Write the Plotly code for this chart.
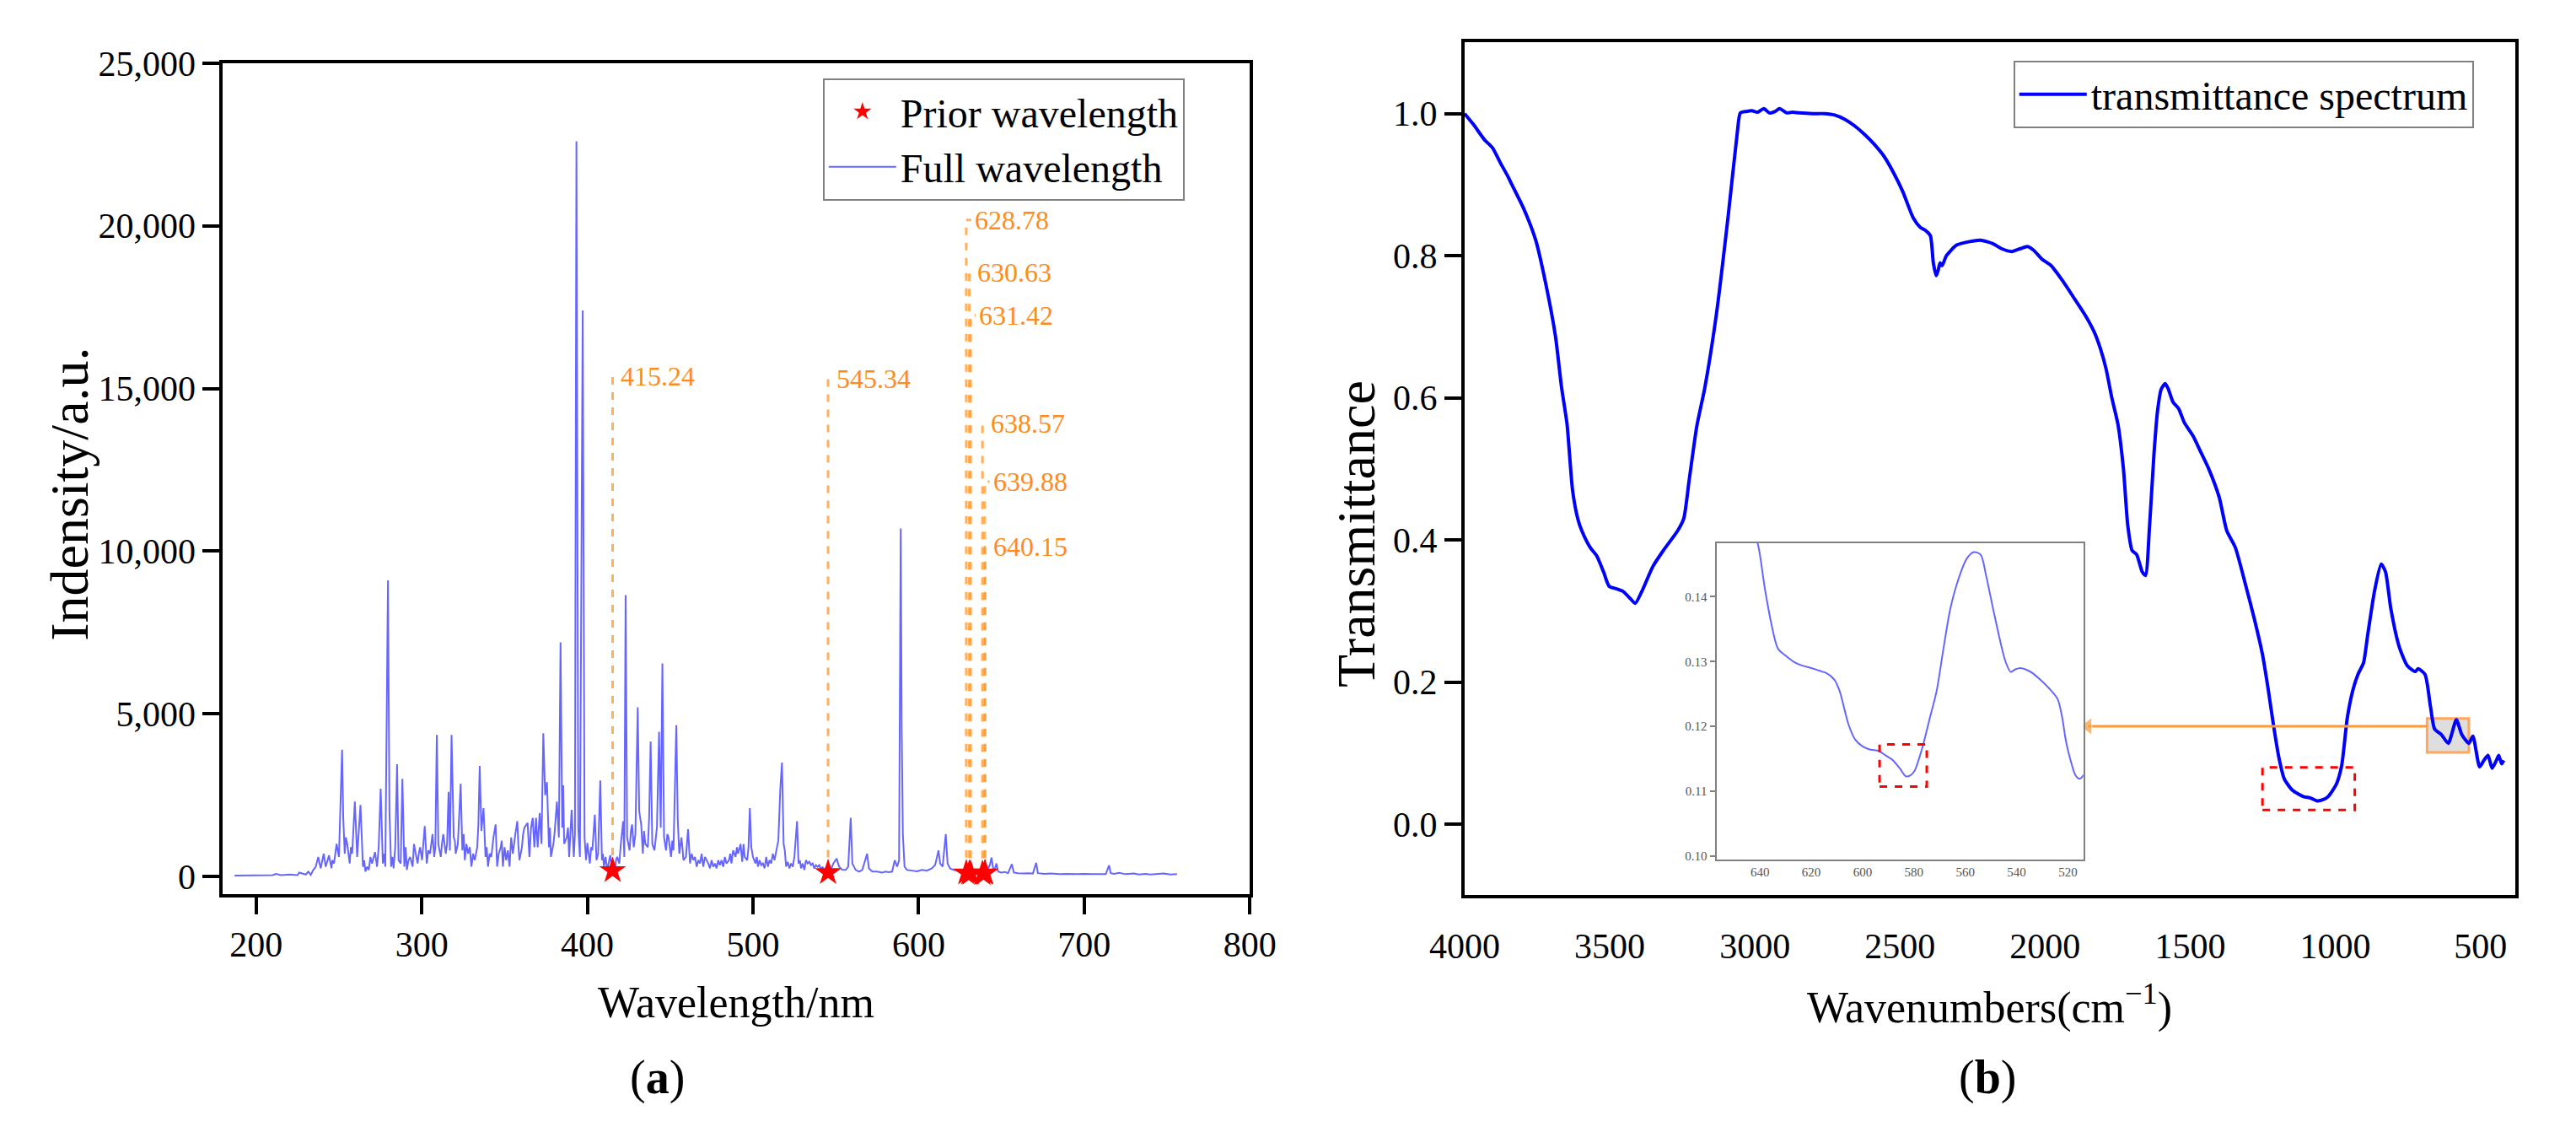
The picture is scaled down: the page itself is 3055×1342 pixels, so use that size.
import plotly.graph_objects as go

# ---------------- data: panel (a) LIBS spectrum (vertices) ----------------
wl_nm = [187, 195, 200, 205, 210, 212, 215, 220, 225, 230, 233,
         236, 237.5, 239, 240.8, 242, 244, 245.5, 247, 248.6, 250, 251.9, 252.6, 253.5, 255, 256.5, 258, 259.6, 261, 263, 264.5,
         266, 268, 270, 271.8, 273, 275.2, 276.5, 278, 279.6, 280.5, 281.5, 283, 285.1, 286, 287.3, 288.3, 289.5, 291, 293,
         294.5, 296, 297.5, 299, 300.2, 301.8, 303, 305, 306.5, 307.5, 309.1, 310, 311.5, 313, 314.5, 316.2, 317, 318, 319.3,
         320.5, 321.8, 323.5, 324.5, 326, 328, 330, 332, 333.5, 335, 336, 337.3, 338.5, 340, 342, 344.6, 345.5, 347.7, 349,
         351, 353, 355, 356.5, 357.7, 359, 360.5, 362, 363.9, 365, 367, 368, 369, 370, 371.2, 372.3, 373.4, 374.5, 375.6, 376.8,
         378, 379.5, 381.6, 382.8, 383.8, 384.8, 386, 387.5, 389, 390.5, 391.8, 393.4, 394.5, 395.5, 397.2, 398.3, 399.2, 400,
         401.5, 403, 404.5, 405.5, 406.5, 407.8, 408.8, 410, 412, 413.8, 415.2, 416.5, 418, 419.3, 420.2, 421.6, 422.3, 423.1,
         424, 425.5, 427, 428, 429, 430.4, 431.3, 432.5, 433.5, 435, 436.5, 438.2, 439.2, 440.5, 442, 443.3, 444.3, 445.3, 446.3,
         447.5, 449, 450.5, 452, 453.7, 454.6, 455.5, 456.8, 458, 459.5, 460.8, 462, 464, 466, 468, 470, 472, 474, 476, 478,
         480, 482, 484, 485.5, 487, 488, 489.5, 491, 492.5, 493.5, 495, 496.5, 498.1, 499, 500, 501.5, 503, 505, 507, 509,
         511, 513, 514.5, 516.5, 517.5, 518.5, 520, 522, 524, 526.6, 527.5, 529, 531, 533, 535, 537, 539, 541, 543, 545.3,
         547, 548.5, 550.5, 552, 554, 556, 557.5, 559, 560, 562, 564, 566, 568.9, 570, 572, 575, 578, 580, 582, 584, 585.6,
         587, 588.2, 589.2, 589.8, 590.5, 591.5, 593, 596, 599, 602, 605, 608, 610, 612, 613, 614.5, 616.4, 617.5, 619, 621,
         623, 626, 628.8, 630.6, 631.4, 633, 635, 638.6, 639.9, 640.2, 641.5, 643, 644, 645, 646, 647, 648, 650, 652, 654,
         656.3, 657.5, 660, 663, 666, 669, 671, 672, 676, 680, 685, 690, 695, 700, 705, 710, 713, 715, 716, 718, 721, 725,
         730, 733, 737, 740, 745, 748, 752, 756]
intensity = [30, 40, 30, 50, 40, 80, 40, 60, 40, 60, 50,
             300, 600, 250, 700, 300, 650, 250, 400, 1000, 600, 3900, 1800, 700, 1000, 400, 700, 2300, 600, 2200, 300,
             150, 200, 400, 750, 300, 2700, 400, 300, 9100, 2000, 300, 250, 3450, 500, 400, 3000, 300, 200, 600,
             300, 800, 400, 900, 500, 1550, 400, 700, 1300, 600, 4350, 1000, 600, 1300, 700, 2600, 800, 4350, 1200,
             700, 1000, 2850, 800, 500, 700, 300, 500, 900, 3400, 1400, 2100, 600, 300, 600, 1600, 300, 900, 300,
             500, 300, 700, 1300, 1700, 500, 900, 1500, 1650, 600, 1800, 900, 1800, 900, 1950, 1000, 4400, 2500, 2900, 900,
             600, 1000, 2300, 1200, 7200, 1500, 1000, 1200, 600, 2050, 600, 22600, 1500, 600, 17400, 1200, 500, 1030,
             400, 800, 1900, 500, 700, 2950, 500, 300, 200, 650, 200, 150, 600, 400, 1000, 1700, 600, 8650,
             1200, 800, 1600, 900, 1300, 5200, 2000, 1600, 700, 1000, 900, 4150, 1000, 800, 1500, 4450, 1500, 6550, 1200,
             800, 1200, 600, 800, 4650, 1700, 700, 1200, 500, 600, 1450, 400, 500, 300, 400, 300, 500, 250, 300, 250,
             350, 300, 400, 500, 400, 800, 600, 700, 1000, 450, 600, 500, 2100, 900, 600, 400, 300, 350, 250, 300,
             400, 500, 900, 2700, 3500, 1000, 300, 250, 300, 1700, 400, 250, 200, 400, 350, 250, 300, 200, 150, 150,
             200, 400, 550, 300, 200, 200, 300, 1800, 400, 200, 150, 200, 700, 250, 150, 150, 120, 150, 130, 150, 500,
             300, 500, 10700, 4500, 1300, 300, 200, 180, 160, 200, 180, 250, 350, 800, 400, 300, 1300, 400, 250, 200,
             180, 120, 100, 90, 100, 80, 70, 90, 100, 120, 200, 350, 580, 250, 220, 400, 150, 120, 140, 100,
             380, 120, 100, 90, 100, 90, 420, 100, 80, 90, 70, 80, 70, 80, 70, 80, 70, 340, 100, 80, 110, 70,
             90, 60, 80, 60, 70, 90, 60, 70]

# weaker emission lines (the dense "grass" between the main lines)
minor_nm = [226, 228.5, 231.5, 234.5, 246, 254.2, 257.2, 265.2, 267, 269, 274, 277.3, 282.3, 284, 290.3, 292, 295.3,
            298.2, 302.4, 304, 308.2, 312.2, 315.3, 320, 325.3, 327, 329, 331, 334.2, 339.2, 341, 343.3, 346.5, 348.3,
            350, 352, 354, 358.3, 361.2, 366, 377.4, 380.3, 385.4, 388.3, 392.5, 402.3, 409.4, 411, 414.5, 417.3, 426.3,
            434.2, 437.3, 441.3, 448.3, 451.3, 457.4, 463, 465, 467, 469, 471, 473, 475, 477, 479, 481, 483, 486.3,
            490.3, 494.3, 497.3, 502.3, 504, 506, 508, 510, 512, 515.3, 519.2, 521, 523, 525, 528.3, 530, 532, 534,
            536, 538, 540, 542, 544]
minor_int = [120, 90, 150, 200, 500, 1200, 900, 500, 300, 600, 900, 700, 600, 900, 900, 500, 1000,
             700, 1000, 800, 900, 1000, 1000, 1100, 1300, 1000, 900, 700, 1600, 900, 700, 1200, 700, 1100,
             900, 800, 1200, 1000, 1300, 1500, 1500, 1400, 2800, 1500, 1300, 900, 700, 600, 400, 500, 1400,
             1400, 1800, 1300, 1300, 1100, 900, 700, 600, 500, 700, 600, 400, 500, 400, 500, 500, 600, 700,
             900, 1000, 900, 600, 500, 400, 600, 500, 700, 1100, 800, 450, 400, 600, 500, 400, 500, 450,
             400, 350, 350, 300, 250]

prior_nm = [415.24, 545.34, 628.78, 630.63, 631.42, 638.57, 639.88, 640.15]
prior_int = [180, 120, 110, 100, 100, 90, 100, 110]
prior_labels = ["415.24", "545.34", "628.78", "630.63", "631.42", "638.57", "639.88", "640.15"]
label_level = [15370, 15300, 20180, 18580, 17250, 13930, 12140, 10130]

x_ticks_a = [200, 300, 400, 500, 600, 700, 800]
y_ticks_a = [0, 5000, 10000, 15000, 20000, 25000]

# ---------------- data: panel (b) transmittance spectrum ----------------
wavenumber = [4000, 3970, 3931, 3904, 3877, 3850, 3837, 3796, 3755, 3720, 3687, 3666, 3647, 3628, 3610, 3596,
              3568, 3545, 3521, 3502, 3474, 3455, 3430, 3412, 3389, 3351, 3314, 3266, 3245, 3226, 3200, 3172,
              3132, 3091, 3060, 3050, 3030, 3010, 2990, 2969, 2950, 2930, 2915, 2890, 2870, 2847, 2800, 2760,
              2725, 2690, 2657, 2620, 2589, 2555, 2521, 2490, 2454, 2430, 2410, 2395, 2385, 2375, 2368, 2362,
              2355, 2340, 2305, 2260, 2223, 2180, 2150, 2115, 2085, 2061, 2040, 2010, 1979, 1940, 1898, 1860,
              1830, 1810, 1790, 1770, 1749, 1730, 1715, 1700, 1685, 1665, 1654, 1640, 1625, 1613, 1600, 1586,
              1575, 1559, 1540, 1520, 1491, 1465, 1437, 1400, 1374, 1345, 1308, 1279, 1251, 1232, 1214, 1195,
              1176, 1148, 1110, 1085, 1063, 1040, 1025, 997, 978, 959, 940, 922, 903, 889, 865, 842, 827, 809,
              780, 752, 724, 715, 691, 672, 658, 634, 611, 583, 564, 540, 526, 503, 488, 474, 460, 445, 437,
              427, 420]
transmittance = [1.000, 0.985, 0.963, 0.952, 0.931, 0.911, 0.900, 0.866, 0.822, 0.760, 0.687, 0.615, 0.563, 0.470,
                 0.430, 0.413, 0.390, 0.378, 0.355, 0.335, 0.331, 0.328, 0.318, 0.311, 0.328, 0.363, 0.386, 0.413,
                 0.430, 0.485, 0.560, 0.615, 0.719, 0.859, 0.975, 1.001, 1.003, 1.004, 1.002, 1.007, 1.001, 1.003,
                 1.007, 1.001, 1.002, 1.001, 1.000, 1.000, 0.998, 0.992, 0.983, 0.970, 0.957, 0.940, 0.916, 0.890,
                 0.853, 0.840, 0.835, 0.828, 0.790, 0.772, 0.780, 0.790, 0.786, 0.800, 0.815, 0.820, 0.822, 0.817,
                 0.810, 0.806, 0.810, 0.813, 0.808, 0.795, 0.786, 0.765, 0.739, 0.715, 0.692, 0.670, 0.641, 0.600,
                 0.563, 0.500, 0.420, 0.385, 0.380, 0.355, 0.350, 0.420, 0.520, 0.580, 0.612, 0.620, 0.612, 0.594,
                 0.585, 0.565, 0.547, 0.525, 0.501, 0.460, 0.413, 0.390, 0.335, 0.289, 0.239, 0.192, 0.142, 0.095,
                 0.064, 0.048, 0.039, 0.037, 0.033, 0.035, 0.039, 0.056, 0.083, 0.149, 0.188, 0.211, 0.227, 0.265,
                 0.328, 0.366, 0.355, 0.304, 0.250, 0.223, 0.215, 0.219, 0.211, 0.165, 0.134, 0.126, 0.114, 0.147,
                 0.126, 0.114, 0.124, 0.081, 0.090, 0.097, 0.079, 0.090, 0.097, 0.085, 0.090]

inset_wn = [643, 641, 638, 635.5, 633, 630, 627, 623.7, 620, 617, 614, 611, 609, 607, 605.5, 603, 600, 597,
            593.7, 591, 588.3, 585.5, 583.2, 581.5, 579.8, 576.6, 574, 571.2, 568.5, 565.8, 562.6, 559.4, 556.7,
            554, 551.9, 548.7, 544.4, 542.3, 540.5, 538.5, 536, 533.7, 530.5, 527.2, 524, 522.3, 520.8, 519, 517,
            515.4, 513.5]
inset_t = [0.1500, 0.1484, 0.1410, 0.1357, 0.1320, 0.1309, 0.1300, 0.1294, 0.1290, 0.1286, 0.1282, 0.1272, 0.1255,
           0.1225, 0.1203, 0.1180, 0.1169, 0.1164, 0.1162, 0.1155, 0.1148, 0.1135, 0.1123, 0.1124, 0.1131, 0.1169,
           0.1210, 0.1254, 0.1320, 0.1382, 0.1428, 0.1459, 0.1469, 0.1465, 0.1433, 0.1373, 0.1301, 0.1284, 0.1288,
           0.1290, 0.1287, 0.1282, 0.1271, 0.1258, 0.1242, 0.1215, 0.1178, 0.1148, 0.1124, 0.1119, 0.1127]

x_ticks_b = [4000, 3500, 3000, 2500, 2000, 1500, 1000, 500]
y_ticks_b = [0.0, 0.2, 0.4, 0.6, 0.8, 1.0]
x_ticks_inset = [640, 620, 600, 580, 560, 540, 520]
y_ticks_inset = [0.10, 0.11, 0.12, 0.13, 0.14]

# zoom-region markers in panel (b): grey box (main), red boxes, arrow from box to inset
grey_box_wn = [684, 540]
grey_box_t = [0.101, 0.149]
red_box_main_wn = [1251, 933]
red_box_main_t = [0.020, 0.080]
red_box_inset_wn = [593.4, 575]
red_box_inset_t = [0.1107, 0.1172]
arrow_wn = [684, 1852]
arrow_t = [0.138, 0.138]

# ---------------- figure ----------------
W, H = 3055, 1342
FONT = "Liberation Serif, Times New Roman, serif"
ORANGE_TXT = "#FF8C1A"
ORANGE_LINE = "rgba(255,150,40,0.75)"


def px(x):
    return x / W


def py(y):
    return 1 - y / H


# merge main and minor lines into one vertex sequence ordered by wavelength
pairs = sorted(list(zip(wl_nm, intensity)) + list(zip(minor_nm, minor_int)))
spec_x = [p[0] for p in pairs]
spec_y = [p[1] for p in pairs]

fig = go.Figure()

# panel (a)
fig.add_trace(go.Scatter(x=spec_x, y=spec_y, mode="lines", name="Full wavelength",
                         line=dict(color="rgba(0,0,255,0.6)", width=2), xaxis="x", yaxis="y",
                         legend="legend", legendrank=2))

cx, cy = [], []
for lam, base, lev in zip(prior_nm, prior_int, label_level):
    cx += [lam, lam, lam + 3, None]
    cy += [base, lev, lev, None]
fig.add_trace(go.Scatter(x=cx, y=cy, mode="lines", showlegend=False, hoverinfo="skip",
                         line=dict(color=ORANGE_LINE, width=3, dash="dash"), xaxis="x", yaxis="y"))

fig.add_trace(go.Scatter(x=prior_nm, y=prior_int, mode="markers", name="Prior wavelength",
                         marker=dict(symbol="star", size=24, color="red", line=dict(width=0)),
                         xaxis="x", yaxis="y", legend="legend", legendrank=1))

# panel (b)
fig.add_trace(go.Scatter(x=wavenumber, y=transmittance, mode="lines", name="transmittance spectrum",
                         line=dict(color="#0000FF", width=4, shape="spline", smoothing=0.6),
                         xaxis="x2", yaxis="y2", legend="legend2"))
# arrow from grey box towards the inset
fig.add_trace(go.Scatter(x=arrow_wn, y=arrow_t, mode="lines+markers", showlegend=False, hoverinfo="skip",
                         line=dict(color="#FF9933", width=3),
                         marker=dict(symbol=["circle", "triangle-left"], size=[0, 18], color="#FF9933"),
                         cliponaxis=False, xaxis="x2", yaxis="y2"))
fig.add_trace(go.Scatter(x=inset_wn, y=inset_t, mode="lines", showlegend=False,
                         line=dict(color="rgba(0,0,255,0.6)", width=2, shape="spline", smoothing=0.8),
                         xaxis="x3", yaxis="y3"))

axis_common = dict(showline=True, linecolor="black", linewidth=4, mirror=True, ticks="outside",
                   ticklen=20, tickwidth=4, tickcolor="black", showgrid=False, zeroline=False,
                   tickfont=dict(family=FONT, size=42, color="black"))
axis_noticks = dict(axis_common, tickcolor="rgba(0,0,0,0)")

fig.update_layout(
    width=W, height=H, autosize=False,
    margin=dict(l=0, r=0, t=0, b=0),
    paper_bgcolor="white", plot_bgcolor="white",
    font=dict(family=FONT, color="black"),
    xaxis=dict(domain=[px(228), px(1476)], range=[180, 800], tickvals=x_ticks_a, anchor="y", **axis_common),
    yaxis=dict(domain=[py(1058), py(54)], range=[-530, 25000], tickvals=y_ticks_a, tickformat=",d",
               anchor="x", **axis_common),
    xaxis2=dict(domain=[px(1737), px(3014)], range=[4000, 380], tickvals=x_ticks_b, anchor="y2", **axis_noticks),
    yaxis2=dict(domain=[py(1060), py(29)], range=[-0.1, 1.1], tickvals=y_ticks_b, tickformat=".1f",
                anchor="x2", **axis_common),
    xaxis3=dict(domain=[px(2043), px(2489)], range=[657, 514], tickvals=x_ticks_inset, anchor="y3",
                showline=True, linecolor="#808080", linewidth=2, mirror=True, ticks="", showgrid=False,
                zeroline=False, tickfont=dict(family=FONT, size=15, color="#555555")),
    yaxis3=dict(domain=[py(1017), py(634)], range=[0.0994, 0.1483], tickvals=y_ticks_inset, tickformat=".2f",
                anchor="x3", showline=True, linecolor="#808080", linewidth=2, mirror=True, ticks="outside",
                ticklen=6, tickwidth=2, tickcolor="#808080", showgrid=False, zeroline=False,
                tickfont=dict(family=FONT, size=15, color="#555555")),
    legend=dict(x=px(957), y=py(72), xanchor="left", yanchor="top", bgcolor="white",
                bordercolor="#808080", borderwidth=2, font=dict(family=FONT, size=48, color="black"),
                tracegroupgap=0, itemwidth=80),
    legend2=dict(x=px(2404), y=py(51), xanchor="left", yanchor="top", bgcolor="white",
                 bordercolor="#808080", borderwidth=2, font=dict(family=FONT, size=48, color="black"),
                 itemwidth=80),
    showlegend=True,
)

# prior-wavelength labels
for lam, lev, txt in zip(prior_nm, label_level, prior_labels):
    fig.add_annotation(x=lam + 4, y=lev, xref="x", yref="y", text=txt, showarrow=False,
                       xanchor="left", yanchor="middle", font=dict(family=FONT, size=32, color=ORANGE_TXT))

# titles
titles = [
    (px(852), py(1190), "Wavelength/nm", 52, 0),
    (px(756), py(1280), "(<b>a</b>)", 56, 0),
    (px(42), py(575), "Indensity/a.u.", 64, -90),
    (px(2375), py(1192), "Wavenumbers(cm<sup>−1</sup>)", 52, 0),
    (px(2372), py(1280), "(<b>b</b>)", 56, 0),
    (px(1606), py(623), "Transmittance", 64, -90),
]
for x, y, t, s, a in titles:
    fig.add_annotation(x=x, y=y, xref="paper", yref="paper", text=t, showarrow=False, textangle=a,
                       xanchor="center", yanchor="middle", font=dict(family=FONT, size=s, color="black"))

# boxes on panel (b)
fig.add_shape(type="rect", xref="x2", yref="y2", x0=grey_box_wn[0], x1=grey_box_wn[1],
              y0=grey_box_t[0], y1=grey_box_t[1],
              fillcolor="rgba(200,200,200,0.6)", line=dict(color="rgba(255,160,80,0.9)", width=3), layer="below")
fig.add_shape(type="rect", xref="x2", yref="y2", x0=red_box_main_wn[0], x1=red_box_main_wn[1],
              y0=red_box_main_t[0], y1=red_box_main_t[1], line=dict(color="red", width=3, dash="dash"))
fig.add_shape(type="rect", xref="x3", yref="y3", x0=red_box_inset_wn[0], x1=red_box_inset_wn[1],
              y0=red_box_inset_t[0], y1=red_box_inset_t[1], line=dict(color="red", width=3, dash="dash"))

fig.write_html("out.html", config={"displayModeBar": False},
               post_script="document.body.style.margin='0';")
